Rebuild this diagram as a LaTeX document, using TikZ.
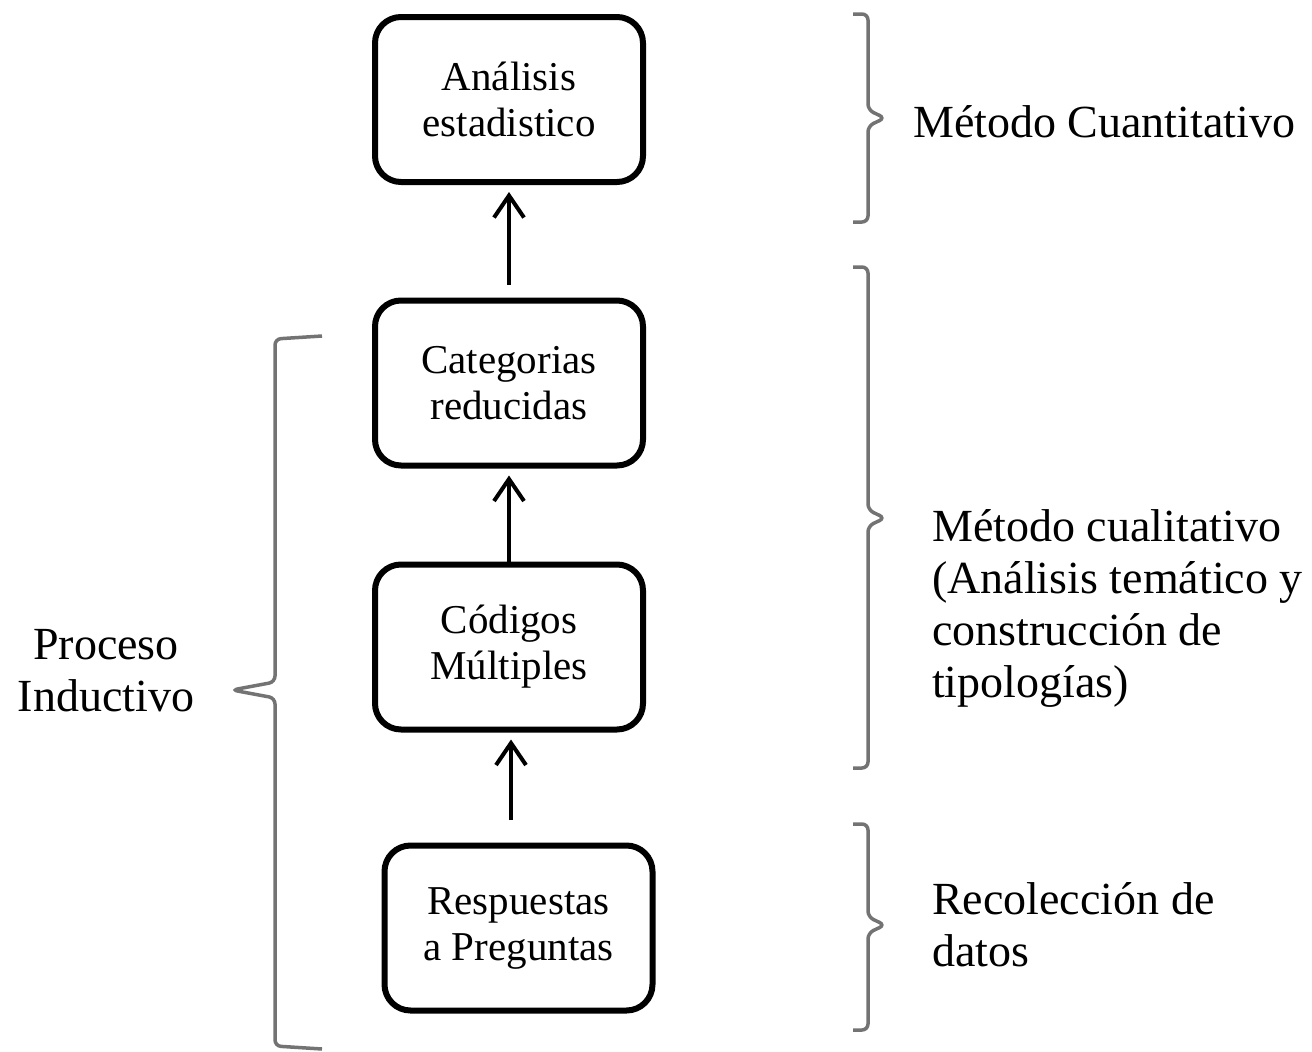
\documentclass[tikz,border=0pt]{standalone}
\usepackage{fontspec}
\setmainfont{Liberation Serif}
\usetikzlibrary{arrows.meta, positioning}
\tikzset{
    x=1pt, y=-1pt, % one unit per pixel of the sketch, y going down
    >={Straight Barb[length=22pt,width=30pt]}, % open arrow heads
}

\begin{document}
\begin{tikzpicture}[
    styleBox/.style={draw, line width=6pt, rounded corners=26pt, minimum width=268pt, minimum height=165pt, align=center, font=\fontsize{41}{46}\selectfont},
    styleSide/.style={align=left, anchor=west, inner sep=0pt, font=\fontsize{46}{52}\selectfont},
    styleBrace/.style={draw=black!55, line width=3.5pt, rounded corners=6pt},
    styleFlow/.style={->, line width=4pt, shorten >=7pt},
]
\useasboundingbox (0,0) rectangle (1312,1052);

% the four steps, bottom to top
\node[styleBox] (resp) at (518.5,928) {Respuestas\\a Preguntas};
\node[styleBox] (cod) at (509,647) {Códigos\\Múltiples};
\node[styleBox] (cat) at (509,383) {Categorias\\reducidas};
\node[styleBox] (ana) at (509,99.5) {Análisis\\estadistico};

\coordinate (startA) at (511,820);
\coordinate (startC) at (509,285);
\draw[styleFlow] (startA) -- (cod.south -| startA);
\draw[styleFlow] (cod) -- (cat);
\draw[styleFlow] (startC) -- (ana);

% braces on the right
\draw[styleBrace] (853,14) -- (868,14) -- (868,110) -- (885,118) -- (868,126) -- (868,222) -- (853,222);
\draw[styleBrace] (853,267) -- (868,267) -- (868,510) -- (885,518) -- (868,526) -- (868,768) -- (853,768);
\draw[styleBrace] (853,824) -- (868,824) -- (868,917) -- (885,925) -- (868,933) -- (868,1030) -- (853,1030);
% brace on the left
\draw[styleBrace] (322,336) -- (275,339) -- (275,682) -- (232,690) -- (275,698) -- (275,1046) -- (322,1049);

\node[styleSide] (cuanti) at (913,122) {Método Cuantitativo};
\node[styleSide] (cuali) at (932,608) {Método cualitativo\\(Análisis temático y\\construcción de\\tipologías)};
\node[styleSide] (recol) at (932,925) {Recolección de\\datos};
\node[styleSide, align=center, anchor=center] (induc) at (106,671) {Proceso\\Inductivo};
\end{tikzpicture}
\end{document}
